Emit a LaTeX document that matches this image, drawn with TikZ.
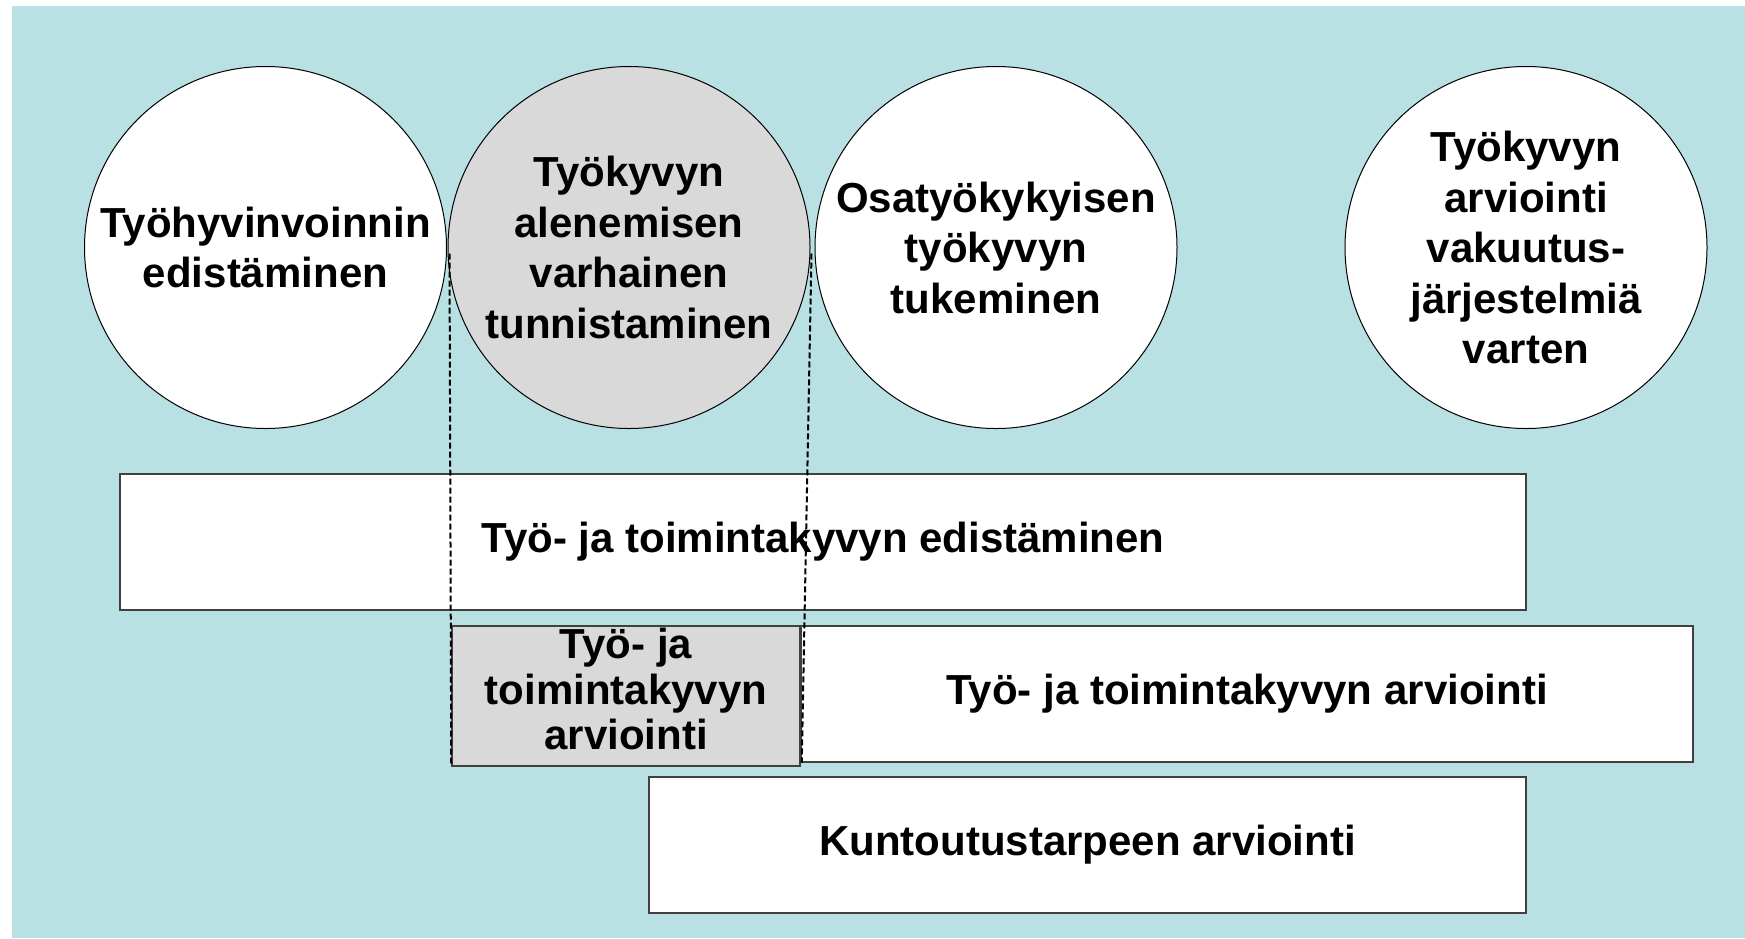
\documentclass[tikz,border=0pt]{standalone}
\usepackage{fontspec}
\setmainfont{Liberation Sans}
\definecolor{bgteal}{HTML}{B9E0E3}
\definecolor{boxgray}{HTML}{D9D9D9}
\definecolor{edgegray}{HTML}{404040}
\tikzset{
  circ/.style={circle, draw=black, line width=1pt, fill=white, minimum size=362pt, inner sep=0pt, align=center,
    font=\fontsize{42}{50.5}\selectfont\bfseries},
  bar/.style={rectangle, draw=edgegray, line width=1.5pt, fill=white, inner sep=0pt, align=center,
    font=\fontsize{42}{50}\selectfont\bfseries},
  txt/.style={inner sep=0pt, align=center, font=\fontsize{42}{45.6}\selectfont\bfseries},
  dashline/.style={draw=black, line width=2pt, dash pattern=on 6pt off 3pt}
}
\begin{document}
\begin{tikzpicture}[x=1pt,y=-1pt]
\useasboundingbox (0,0) rectangle (1745,938);
\fill[white] (0,0) rectangle (1745,938);
\fill[bgteal] (12,6) rectangle (1745,938);
% circles
\node[circ] (c1) at (265.5,247.5) {Työhyvinvoinnin\\edistäminen};
\node[circ, fill=boxgray] (c2) at (629,247.5) {Työkyvyn\\alenemisen\\varhainen\\tunnistaminen};
\node[circ] (c3) at (996,247.5) {Osatyökykyisen\\työkyvyn\\tukeminen};
\node[circ] (c4) at (1526,247.5) {Työkyvyn\\arviointi\\vakuutus-\\järjestelmiä\\varten};
% bars
\node[bar, minimum width=1406pt, minimum height=136pt] (ra) at (823,542) {Työ- ja toimintakyvyn edistäminen};
\node[bar, fill=boxgray, minimum width=348pt, minimum height=140pt] (gb) at (626,696) {};
\node[txt] (gbt) at (626,689) {Työ- ja\\toimintakyvyn\\arviointi};
\node[bar, minimum width=892pt, minimum height=136pt] (rc) at (1247,694) {Työ- ja toimintakyvyn arviointi};
\node[bar, minimum width=877pt, minimum height=136pt] (rd) at (1087.5,845) {Kuntoutustarpeen arviointi};
% dashed projection
\draw[dashline] ([shift={(2,6)}]c2.west) -- ([shift={(0,-3)}]gb.south west);
\draw[dashline] ([shift={(1,6)}]c2.east) -- ([shift={(1,-4)}]gb.south east);
\end{tikzpicture}
\end{document}
